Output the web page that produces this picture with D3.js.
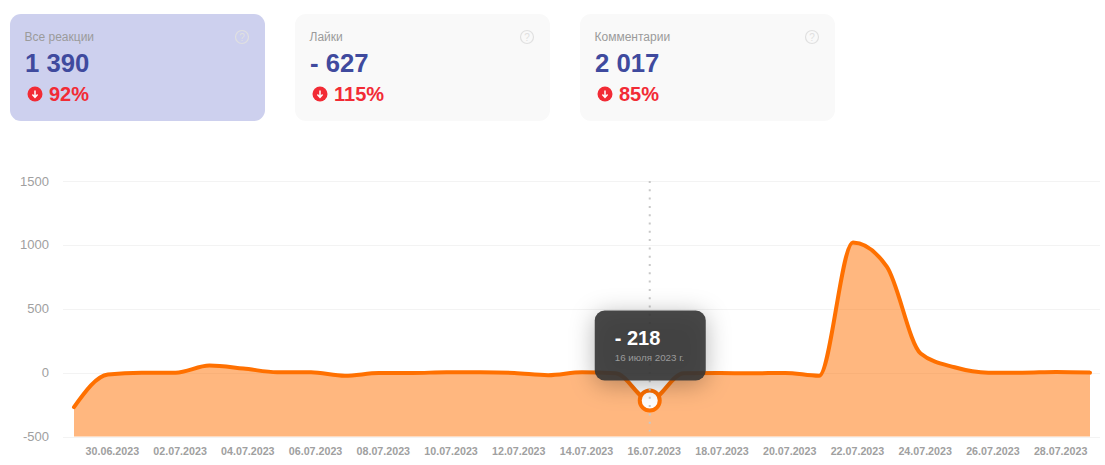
<!DOCTYPE html>
<html>
<head>
<meta charset="utf-8">
<script src="https://cdn.jsdelivr.net/npm/d3@7"></script>
<style>
  html, body { margin: 0; padding: 0; background: #fff; }
  svg { display: block; }
  text { font-family: "Liberation Sans", Arial, sans-serif; }
</style>
</head>
<body>
<div id="main-div"></div>
<script>
// card values
const cardTitles = ["Все реакции", "Лайки", "Комментарии"]
const cardValues = ["1 390", "- 627", "2 017"]
const cardChanges = ["92%", "115%", "85%"]

// chart values, one per day from 29.06.2023
const dates = ["2023-06-29", "2023-06-30", "2023-07-01", "2023-07-02", "2023-07-03", "2023-07-04",
  "2023-07-05", "2023-07-06", "2023-07-07", "2023-07-08", "2023-07-09", "2023-07-10", "2023-07-11",
  "2023-07-12", "2023-07-13", "2023-07-14", "2023-07-15", "2023-07-16", "2023-07-17", "2023-07-18",
  "2023-07-19", "2023-07-20", "2023-07-21", "2023-07-22", "2023-07-23", "2023-07-24", "2023-07-25",
  "2023-07-26", "2023-07-27", "2023-07-28", "2023-07-29"]
const values = [-270, -15, 0, 0, 55, 32, 3, 2, -25, -3, -3, 3, 2, -3, -20, 3, -5, -218, -5, -3,
  -5, -2, -25, 1018, 830, 150, 42, 0, 0, 5, 0]
const yTicks = [-500, 0, 500, 1000, 1500]
const activeDate = "2023-07-16"
const activeValue = "- 218"
const activeLabel = "16 июля 2023 г."

let width = 1105
let height = 465
let parseDay = d3.utcParse("%Y-%m-%d")
let formatDay = d3.utcFormat("%d.%m.%Y")

let data = dates.map((d, i) => ({date: parseDay(d), value: values[i]}))

let svg = d3.select("#main-div")
  .append("svg")
  .attr("width", width)
  .attr("height", height)

let defs = svg.append("defs")
let shadow = defs.append("filter")
  .attr("id", "tip-shadow")
  .attr("x", "-50%").attr("y", "-50%")
  .attr("width", "200%").attr("height", "200%")
shadow.append("feDropShadow")
  .attr("dx", 0).attr("dy", 4)
  .attr("stdDeviation", 12)
  .attr("flood-color", "#000")
  .attr("flood-opacity", 0.32)

// cards
let card = svg.selectAll("g.card")
  .data(cardTitles)
  .join("g")
  .attr("class", "card")
  .attr("transform", (d, i) => `translate(${10 + i * 285}, 14)`)

card.append("rect")
  .attr("width", 255)
  .attr("height", 107)
  .attr("rx", 11)
  .attr("fill", (d, i) => i == 0 ? "#cdd0ee" : "#f9f9f9")

card.append("text")
  .attr("x", 14.5)
  .attr("y", 27)
  .attr("font-size", 12)
  .attr("fill", "#9b9b9b")
  .text(d => d)

card.append("text")
  .attr("x", 15)
  .attr("y", 58)
  .attr("font-size", 25.7)
  .attr("font-weight", "bold")
  .attr("fill", "#3f4a9e")
  .text((d, i) => cardValues[i])

card.append("text")
  .attr("x", 39)
  .attr("y", 87)
  .attr("font-size", 20)
  .attr("font-weight", "bold")
  .attr("fill", "#f22b35")
  .text((d, i) => cardChanges[i])

// red down icon
card.append("circle")
  .attr("cx", 25)
  .attr("cy", 80)
  .attr("r", 7.5)
  .attr("fill", "#f22b35")
card.append("path")
  .attr("d", "M25 76.5V83M22.4 80.6L25 83.4L27.6 80.6")
  .attr("fill", "none")
  .attr("stroke", "#fff")
  .attr("stroke-width", 1.5)

// help icon
card.append("circle")
  .attr("cx", 232)
  .attr("cy", 23)
  .attr("r", 6.5)
  .attr("fill", "none")
  .attr("stroke", "#e0e0e0")
  .attr("stroke-width", 1.2)
card.append("text")
  .attr("x", 232)
  .attr("y", 26.5)
  .attr("text-anchor", "middle")
  .attr("font-size", 10)
  .attr("fill", "#e0e0e0")
  .text("?")

// scales
let x = d3.scaleUtc()
  .domain(d3.extent(data, d => d.date))
  .range([74, 1090])

let y = d3.scaleLinear()
  .domain([-500, 1500])
  .range([436.5, 181])

// grid
svg.append("g")
  .selectAll("line")
  .data(yTicks)
  .join("line")
  .attr("x1", 63)
  .attr("x2", 1100)
  .attr("y1", d => Math.round(y(d)) + 0.5)
  .attr("y2", d => Math.round(y(d)) + 0.5)
  .attr("stroke", "#f3f3f3")

// y labels
svg.append("g")
  .selectAll("text")
  .data(yTicks)
  .join("text")
  .attr("x", 49)
  .attr("y", d => y(d) + 4.5)
  .attr("text-anchor", "end")
  .attr("font-size", 13)
  .attr("fill", "#a0a0a0")
  .text(d => d)

// x labels, every second day
let xTicks = data.filter((d, i) => i % 2 == 1)
svg.append("g")
  .selectAll("text")
  .data(xTicks)
  .join("text")
  .attr("x", d => x(d.date) + 4.5)
  .attr("y", 455)
  .attr("text-anchor", "middle")
  .attr("font-size", 10.7)
  .attr("font-weight", "bold")
  .attr("fill", "#a0a0a0")
  .text(d => formatDay(d.date))

// area and line
let area = d3.area()
  .x(d => x(d.date))
  .y0(y(-500))
  .y1(d => y(d.value))
  .curve(d3.curveMonotoneX)

let line = d3.line()
  .x(d => x(d.date))
  .y(d => y(d.value))
  .curve(d3.curveMonotoneX)

svg.append("path")
  .datum(data)
  .attr("fill", "#ff7000")
  .attr("fill-opacity", 0.5)
  .attr("d", area)

svg.append("path")
  .datum(data)
  .attr("fill", "none")
  .attr("stroke", "#ff7000")
  .attr("stroke-width", 4)
  .attr("stroke-linecap", "round")
  .attr("stroke-linejoin", "round")
  .attr("d", line)

// hover marker
let active = data.find(d => formatDay(d.date) == formatDay(parseDay(activeDate)))
let ax = x(active.date)
let ay = y(active.value)

svg.append("circle")
  .attr("cx", ax)
  .attr("cy", ay)
  .attr("r", 10)
  .attr("fill", "#fff")
  .attr("stroke", "#ff7000")
  .attr("stroke-width", 4)

svg.append("line")
  .attr("x1", ax)
  .attr("x2", ax)
  .attr("y1", y(1500))
  .attr("y2", y(-500) - 5)
  .attr("stroke", "#c8c8c8")
  .attr("stroke-width", 2)
  .attr("stroke-dasharray", "2 6.3")

// tooltip
let tip = svg.append("g")
  .attr("transform", `translate(${ax - 55}, ${ay - 90})`)

tip.append("rect")
  .attr("width", 111)
  .attr("height", 70)
  .attr("rx", 10)
  .attr("fill", "#333")
  .attr("fill-opacity", 0.9)
  .attr("filter", "url(#tip-shadow)")

tip.append("text")
  .attr("x", 20)
  .attr("y", 35)
  .attr("font-size", 20)
  .attr("font-weight", "bold")
  .attr("fill", "#fff")
  .text(activeValue)

tip.append("text")
  .attr("x", 20)
  .attr("y", 51)
  .attr("font-size", 9.8)
  .attr("fill", "#9a9a9a")
  .text(activeLabel)
</script>
</body>
</html>
